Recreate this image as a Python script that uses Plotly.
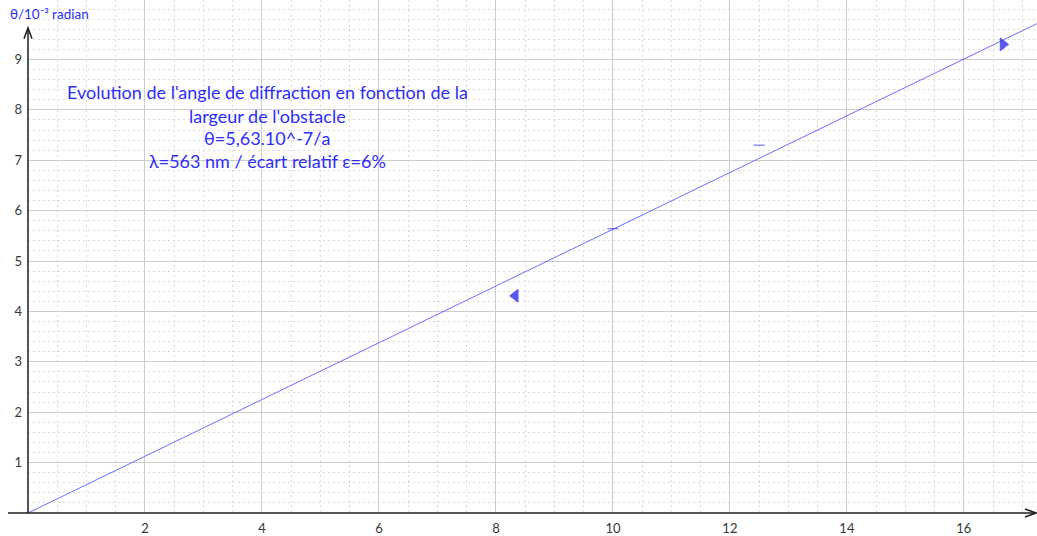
import plotly.graph_objects as go

# Measured points: 1/a (mm^-1) against diffraction angle (10^-3 rad)
inv_a = [8.33, 10.0, 12.5, 16.67]
theta = [4.31, 5.64, 7.30, 9.30]
symbols = ["triangle-left", "line-ew", "line-ew", "triangle-right"]
sizes = [11, 8, 8, 11]

# Model: theta = 5,63.10^-7 / a  ->  slope 0.563 in these units
slope = 0.563
fit_x = [0.0, 17.3]

x_ticks = [2, 4, 6, 8, 10, 12, 14, 16]
y_ticks = [1, 2, 3, 4, 5, 6, 7, 8, 9]

X_RANGE = [0, 17.25]
Y_RANGE = [0, 10.18]

BLUE_TXT = "rgb(45,45,250)"
LINE_BLUE = "rgb(110,110,255)"
MARK_BLUE = "rgb(20,20,235)"
FONT = "Lato, 'Open Sans', sans-serif"

fig = go.Figure()

fig.add_trace(go.Scatter(
    x=fit_x, y=[slope * v for v in fit_x], mode="lines",
    line=dict(color=LINE_BLUE, width=1), hoverinfo="skip", showlegend=False,
))

fig.add_trace(go.Scatter(
    x=inv_a, y=theta, mode="markers", showlegend=False,
    marker=dict(symbol=symbols, size=sizes, color=MARK_BLUE,
                line=dict(color=MARK_BLUE, width=1)),
))

grid_major = "rgb(205,205,205)"
grid_minor = "rgb(218,218,218)"

fig.update_xaxes(
    range=X_RANGE, tickmode="array", tickvals=x_ticks,
    showgrid=True, gridcolor=grid_major, gridwidth=1,
    minor=dict(dtick=0.5, tick0=0, showgrid=True, gridcolor=grid_minor,
               griddash="2px,3px", gridwidth=1),
    zeroline=False, showline=False, ticks="", ticklabelstandoff=6,
    tickfont=dict(family=FONT, size=13, color="rgb(55,55,55)"),
)
fig.update_yaxes(
    range=Y_RANGE, tickmode="array", tickvals=y_ticks,
    showgrid=True, gridcolor=grid_major, gridwidth=1,
    minor=dict(dtick=0.2, tick0=0, showgrid=True, gridcolor=grid_minor,
               griddash="2px,3px", gridwidth=1),
    zeroline=False, showline=False, ticks="", ticklabelstandoff=5,
    tickfont=dict(family=FONT, size=13, color="rgb(55,55,55)"),
)

# Axis lines with open arrowheads (paper coordinates)
W, L, B, H = 1009.0, 28.0, 21.0, 515.0

def px(xp):
    return (xp - L) / W

def py(yp):
    return (536 - B - yp) / H

axis_style = dict(color="rgb(30,30,30)", width=1.5)
fig.add_shape(type="line", xref="paper", yref="paper",
              x0=px(8), x1=px(1036), y0=0, y1=0, line=axis_style)
fig.add_shape(type="line", xref="paper", yref="paper",
              x0=0, x1=0, y0=0, y1=py(28), line=axis_style)
fig.add_shape(type="path", xref="paper", yref="paper",
              path=f"M {px(24)},{py(39)} L {px(28)},{py(28)} L {px(32)},{py(39)}",
              line=axis_style)
fig.add_shape(type="path", xref="paper", yref="paper",
              path=f"M {px(1025)},{py(511)} L {px(1036)},{py(515)} L {px(1025)},{py(519)}",
              line=axis_style)

# Axis title
fig.add_annotation(xref="paper", yref="paper", x=px(8), y=py(14),
                   xanchor="left", yanchor="middle", showarrow=False,
                   text="θ/10⁻³ radian",
                   font=dict(family=FONT, size=13.5, color=BLUE_TXT))

# Caption block
caption = [
    "Evolution de l'angle de diffraction en fonction de la",
    "largeur de l'obstacle",
    "θ=5,63.10^-7/a",
    "λ=563 nm / écart relatif ε=6%",
]
caption_rows = [92, 116, 139, 162]
for line, row in zip(caption, caption_rows):
    fig.add_annotation(xref="paper", yref="paper", x=px(267), y=py(row),
                       xanchor="center", yanchor="middle", showarrow=False,
                       text=line, font=dict(family=FONT, size=18, color=BLUE_TXT))

fig.update_layout(
    width=1037, height=536,
    margin=dict(l=28, r=0, t=0, b=21),
    plot_bgcolor="white", paper_bgcolor="white",
    showlegend=False,
)

fig.write_html("out.html")
